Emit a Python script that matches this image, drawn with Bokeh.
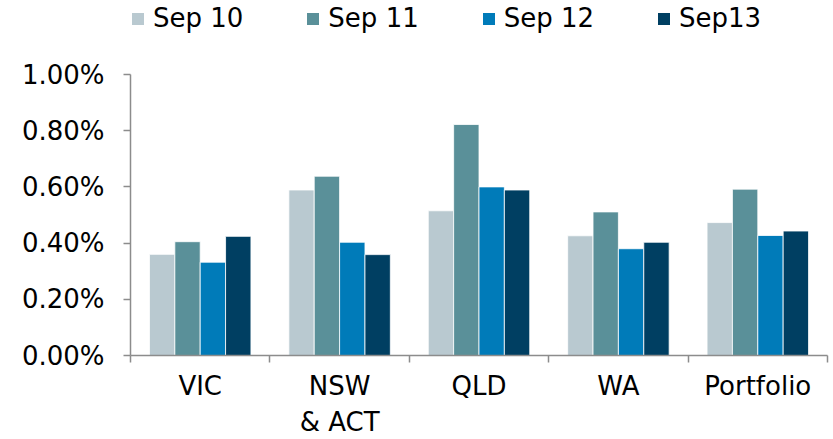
from bokeh.plotting import figure
from bokeh.layouts import column
from bokeh.models import ColumnDataSource, FixedTicker, PrintfTickFormatter, Range1d, Legend, LegendItem
from bokeh.embed import file_html
from bokeh.resources import INLINE

categories = ["VIC", "NSW\n& ACT", "QLD", "WA", "Portfolio"]
series_names = ["Sep 10", "Sep 11", "Sep 12", "Sep13"]
sep10 = [0.360, 0.589, 0.515, 0.426, 0.473]
sep11 = [0.405, 0.638, 0.822, 0.511, 0.592]
sep12 = [0.332, 0.403, 0.600, 0.380, 0.427]
sep13 = [0.424, 0.359, 0.589, 0.403, 0.443]
colors = ["#B9C9D0", "#5A9099", "#007BB9", "#003F62"]
y_ticks = [0.0, 0.2, 0.4, 0.6, 0.8, 1.0]

FONT = "DejaVu Sans"
n = len(categories)
bar_w = 0.182
offsets = [-1.5 * bar_w, -0.5 * bar_w, 0.5 * bar_w, 1.5 * bar_w]

sources = []
for vals, off in zip([sep10, sep11, sep12, sep13], offsets):
    sources.append(ColumnDataSource(dict(x=[i + 0.5 + off for i in range(n)], top=vals)))

# ---------- legend strip ----------
leg = figure(width=833, height=40, output_backend="svg", toolbar_location=None,
             x_range=Range1d(0, n), y_range=Range1d(5, 6),
             x_axis_location=None, y_axis_location=None,
             min_border=0, min_border_left=0, min_border_right=0,
             min_border_top=0, min_border_bottom=0)
leg.grid.visible = False
leg.outline_line_color = None
leg.border_fill_color = "white"
leg_items = []
for name, col, src in zip(series_names, colors, sources):
    r = leg.vbar(x="x", top="top", width=bar_w, source=src, fill_color=col, line_color=None)
    leg_items.append(LegendItem(label=name, renderers=[r]))
legend = Legend(items=leg_items, orientation="horizontal", location=(0, 7),
                glyph_width=15, glyph_height=15, label_standoff=8,
                spacing=62, padding=0, margin=0,
                label_text_font=FONT, label_text_font_size="26px", label_text_color="black",
                background_fill_alpha=0, border_line_alpha=0)
leg.add_layout(legend, "center")

# ---------- main chart ----------
p = figure(width=833, height=399, output_backend="svg", toolbar_location=None,
           x_range=Range1d(0, n), y_range=Range1d(0, 1.0),
           min_border_left=130, min_border_right=6, min_border_top=34, min_border_bottom=82)
p.outline_line_color = None
p.xgrid.visible = False
p.ygrid.visible = False
p.background_fill_color = "white"
p.border_fill_color = "white"

for col, src in zip(colors, sources):
    p.vbar(x="x", top="top", width=bar_w, bottom=0, source=src,
           fill_color=col, line_color="white", line_width=0.8)

ax = p.xaxis[0]
ax.ticker = FixedTicker(ticks=[i + 0.5 for i in range(n)], minor_ticks=list(range(n + 1)))
ax.major_label_overrides = {i + 0.5: c for i, c in enumerate(categories)}
ax.major_tick_line_color = None
ax.minor_tick_out = 7
ax.minor_tick_in = 0
ax.minor_tick_line_color = "#8C8C8C"
ax.minor_tick_line_width = 1.5
ax.axis_line_color = "#8C8C8C"
ax.axis_line_width = 1.5
ax.major_label_text_font = FONT
ax.major_label_text_font_size = "26px"
ax.major_label_text_color = "black"
ax.major_label_standoff = 8

ay = p.yaxis[0]
ay.ticker = FixedTicker(ticks=y_ticks, minor_ticks=[])
ay.formatter = PrintfTickFormatter(format="%.2f%%")
ay.major_tick_out = 7
ay.major_tick_in = 0
ay.major_tick_line_color = "#8C8C8C"
ay.major_tick_line_width = 1.5
ay.axis_line_color = "#8C8C8C"
ay.axis_line_width = 1.5
ay.major_label_text_font = FONT
ay.major_label_text_font_size = "26px"
ay.major_label_text_color = "black"
ay.major_label_standoff = 19

layout = column(leg, p, spacing=0)
open("out.html", "w").write(file_html(layout, INLINE))
